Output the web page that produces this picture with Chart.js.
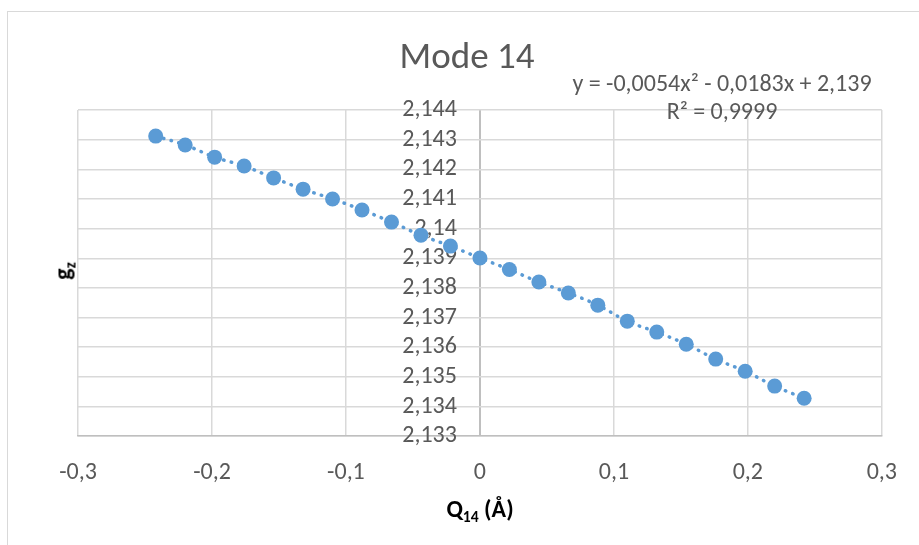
<!DOCTYPE html>
<html>
<head>
<meta charset="utf-8">
<script src="https://cdn.jsdelivr.net/npm/chart.js@4.4.0/dist/chart.umd.min.js"></script>
<style>
  body { margin: 0; width: 919px; height: 545px; overflow: hidden; background: #fff; position: relative; }
  #frame { position: absolute; left: 7px; top: 11px; width: 1000px; height: 1000px; border: 1.5px solid #d9d9d9; }
  #myChart { position: absolute; left: 0; top: 0; }
  .txt { position: absolute; transform: translate(-50%, -50%); white-space: nowrap; color: #595959;
         font-family: Carlito, Calibri, "Liberation Sans", Arial, sans-serif; }
  .txt sub { font-size: 0.65em; vertical-align: baseline; position: relative; top: 0.3em; }
  .bold { font-weight: bold; color: #000; }
</style>
</head>
<body>
<div id="frame"></div>
<canvas id="myChart" width="919" height="545"></canvas>
<div class="txt" style="left:467px; top:55px; font-size:37px;">Mode 14</div>
<div class="txt" style="left:722px; top:82px; font-size:24px;">y = -0,0054x² - 0,0183x + 2,139</div>
<div class="txt" style="left:722px; top:110px; font-size:24px;">R² = 0,9999</div>
<div class="txt bold" style="left:480px; top:508px; font-size:24px;">Q<sub>14</sub> (Å)</div>
<div class="txt bold" style="left:62px; top:271px; font-size:24px; transform: translate(-50%, -50%) rotate(-90deg);">g<sub>z</sub></div>

<script>
// values
var qValues = [-0.242, -0.220, -0.198, -0.176, -0.154, -0.132, -0.110, -0.088, -0.066, -0.044, -0.022, 0,
               0.022, 0.044, 0.066, 0.088, 0.110, 0.132, 0.154, 0.176, 0.198, 0.220, 0.242];
var gzValues = [2.14312, 2.14282, 2.14241, 2.14211, 2.14171, 2.14133, 2.14100, 2.14063, 2.14022, 2.13978, 2.13941, 2.13901,
                2.13862, 2.13820, 2.13783, 2.13742, 2.13688, 2.13651, 2.13610, 2.13560, 2.13519, 2.13469, 2.13428];

var xRange = [-0.3, 0.3, 0.1];
var yRange = [2.133, 2.144, 0.001];

var blue = '#5B9BD5';

function comma(v, digits) {
  return String(parseFloat(v.toFixed(digits))).replace('.', ',');
}

var points = [];
for (var i = 0; i < qValues.length; i++) {
  points.push({x: qValues[i], y: gzValues[i]});
}

var tickFont = {family: 'Carlito, Calibri, "Liberation Sans", Arial, sans-serif', size: 24};

var ctx = document.getElementById('myChart').getContext('2d');
var myChart = new Chart(ctx, {
  type: 'scatter',
  data: {
    datasets: [
      {
        data: points,
        backgroundColor: blue,
        borderWidth: 0,
        pointRadius: 7.5,
        pointHoverRadius: 7.5,
        order: 0
      },
      {
        data: points,
        showLine: true,
        pointRadius: 0,
        borderColor: blue,
        borderWidth: 3.5,
        borderDash: [0.5, 7.5],
        borderCapStyle: 'round',
        tension: 0.4,
        order: 1
      }
    ]
  },
  options: {
    responsive: false,
    animation: false,
    layout: { padding: {left: 78, right: 37, top: 110, bottom: 36} },
    plugins: { legend: {display: false}, tooltip: {enabled: false} },
    scales: {
      x: {
        type: 'linear',
        min: xRange[0], max: xRange[1],
        grid: {
          // the vertical axis sits on x = 0, a bit darker than the grid
          color: function (c) { return c.tick && Math.abs(c.tick.value) < 1e-9 ? '#bfbfbf' : '#d9d9d9'; },
          lineWidth: function (c) { return c.tick && Math.abs(c.tick.value) < 1e-9 ? 2 : 1.5; },
          drawTicks: false
        },
        border: { color: '#bfbfbf', width: 1.5 },
        ticks: {
          stepSize: xRange[2], padding: 22, color: '#595959', font: tickFont,
          callback: function (v) { return comma(v, 1); }
        }
      },
      y: {
        type: 'linear',
        // labels sit just left of the x = 0 line
        position: {x: -0.0172},
        min: yRange[0], max: yRange[1],
        grid: { color: '#d9d9d9', lineWidth: 1.5, drawTicks: false },
        border: { display: false },
        ticks: {
          stepSize: yRange[2], autoSkip: false, color: '#595959', font: tickFont,
          callback: function (v) { return comma(v, 3); }
        }
      }
    }
  }
});
</script>
</body>
</html>
